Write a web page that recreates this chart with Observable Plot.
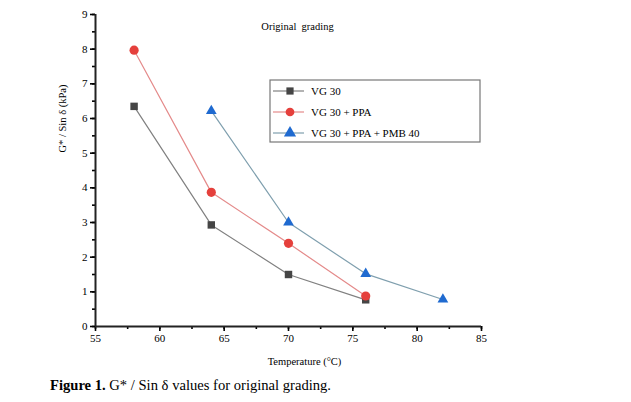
<!DOCTYPE html>
<html><head><meta charset="utf-8">
<script src="https://cdn.jsdelivr.net/npm/d3@7"></script>
<script src="https://cdn.jsdelivr.net/npm/@observablehq/plot@0.6"></script>
<style>
body{margin:0;background:#fff;font-family:"Liberation Serif","Times New Roman",serif;}
#wrap{position:relative;width:631px;height:402px;}
#cap{position:absolute;left:50px;top:377px;font-size:14.6px;color:#000;white-space:nowrap;}
</style></head>
<body><div id="wrap"><div id="chart"></div><div id="cap"><b>Figure 1.</b> G* / Sin δ values for original grading.</div></div>
<script>
const seriesNames = ["VG 30", "VG 30 + PPA", "VG 30 + PPA + PMB 40"];
const tempVG = [58, 64, 70, 76];
const valVG = [6.35, 2.93, 1.5, 0.77];
const tempPPA = [58, 64, 70, 76];
const valPPA = [7.97, 3.87, 2.4, 0.88];
const tempPMB = [64, 70, 76, 82];
const valPMB = [6.22, 3.0, 1.52, 0.78];
const xTicks = [55, 60, 65, 70, 75, 80, 85];
const yTicks = [0, 1, 2, 3, 4, 5, 6, 7, 8, 9];

const lineColors = ["#808080", "#e48a8a", "#7f9fae"];
const dotColors = ["#454545", "#e5403c", "#1f6ad0"];
const symbols = ["square", "circle", "triangle"];
const radii = [4.2, 4.6, 4.0];

const data = [];
[[tempVG, valVG], [tempPPA, valPPA], [tempPMB, valPMB]].forEach(([t, v], i) => {
  t.forEach((x, j) => data.push({series: seriesNames[i], temp: x, val: v[j], idx: i}));
});

const font = '"Liberation Serif","Times New Roman",serif';
const marks = [];
seriesNames.forEach((s, i) => {
  const d = data.filter(r => r.series === s);
  marks.push(Plot.line(d, {x: "temp", y: "val", stroke: lineColors[i], strokeWidth: 1.2}));
});
seriesNames.forEach((s, i) => {
  const d = data.filter(r => r.series === s);
  marks.push(Plot.dot(d, {x: "temp", y: "val", fill: dotColors[i], symbol: () => symbols[i], r: radii[i], stroke: "none"}));
});

const plot = Plot.plot({
  width: 631, height: 372,
  marginLeft: 95, marginRight: 150, marginTop: 14, marginBottom: 46,
  style: {fontFamily: font, fontSize: "11px", color: "#000", background: "#fff"},
  x: {domain: [55, 85]},
  y: {domain: [0, 9]},
  marks: [
    Plot.axisX({ticks: d3.range(55, 85.01, 2.5), tickSize: 3, tickFormat: () => "", strokeWidth: 1.6, label: null}),
    Plot.axisX({ticks: xTicks, tickSize: 5, tickPadding: 3, strokeWidth: 1.6, label: null, fontSize: 11}),
    Plot.axisY({ticks: d3.range(0, 9.01, 0.5), tickSize: 3, tickFormat: () => "", strokeWidth: 1.6, label: null}),
    Plot.axisY({ticks: yTicks, tickSize: 5, tickPadding: 3, strokeWidth: 1.6, label: null, fontSize: 11}),
    Plot.ruleX([55], {stroke: "#222", strokeWidth: 2}),
    Plot.ruleY([0], {stroke: "#222", strokeWidth: 2}),
    Plot.text(["G* / Sin δ (kPa)"], {frameAnchor: "left", rotate: -90, dx: -33, dy: -18, fontSize: 10.5}),
    Plot.text(["Temperature (°C)"], {frameAnchor: "bottom", dx: 16, dy: 38, fontSize: 10.5}),
    Plot.text(["Original  grading"], {frameAnchor: "top", dx: 9, dy: 8, fontSize: 10.5}),
    ...marks
  ]
});
document.getElementById("chart").appendChild(plot);

// Legend box
const svg = d3.select(plot);
const lg = svg.append("g").attr("transform", "translate(270,80)");
lg.append("rect").attr("width", 210).attr("height", 62).attr("fill", "#fff").attr("stroke", "#777").attr("stroke-width", 1.2);
const symGen = [d3.symbolSquare, d3.symbolCircle, d3.symbolTriangle];
const symSize = [52, 60, 64];
seriesNames.forEach((s, i) => {
  const y = 11 + i * 21;
  lg.append("line").attr("x1", 3).attr("x2", 34).attr("y1", y).attr("y2", y).attr("stroke", lineColors[i]).attr("stroke-width", 1.2);
  lg.append("path").attr("d", d3.symbol(symGen[i], symSize[i])()).attr("transform", `translate(20,${y})`).attr("fill", dotColors[i]);
  lg.append("text").attr("x", 41).attr("y", y).attr("dy", "0.35em").attr("text-anchor", "start").attr("font-size", 11).attr("font-family", font).text(s);
});
</script>
</body></html>
